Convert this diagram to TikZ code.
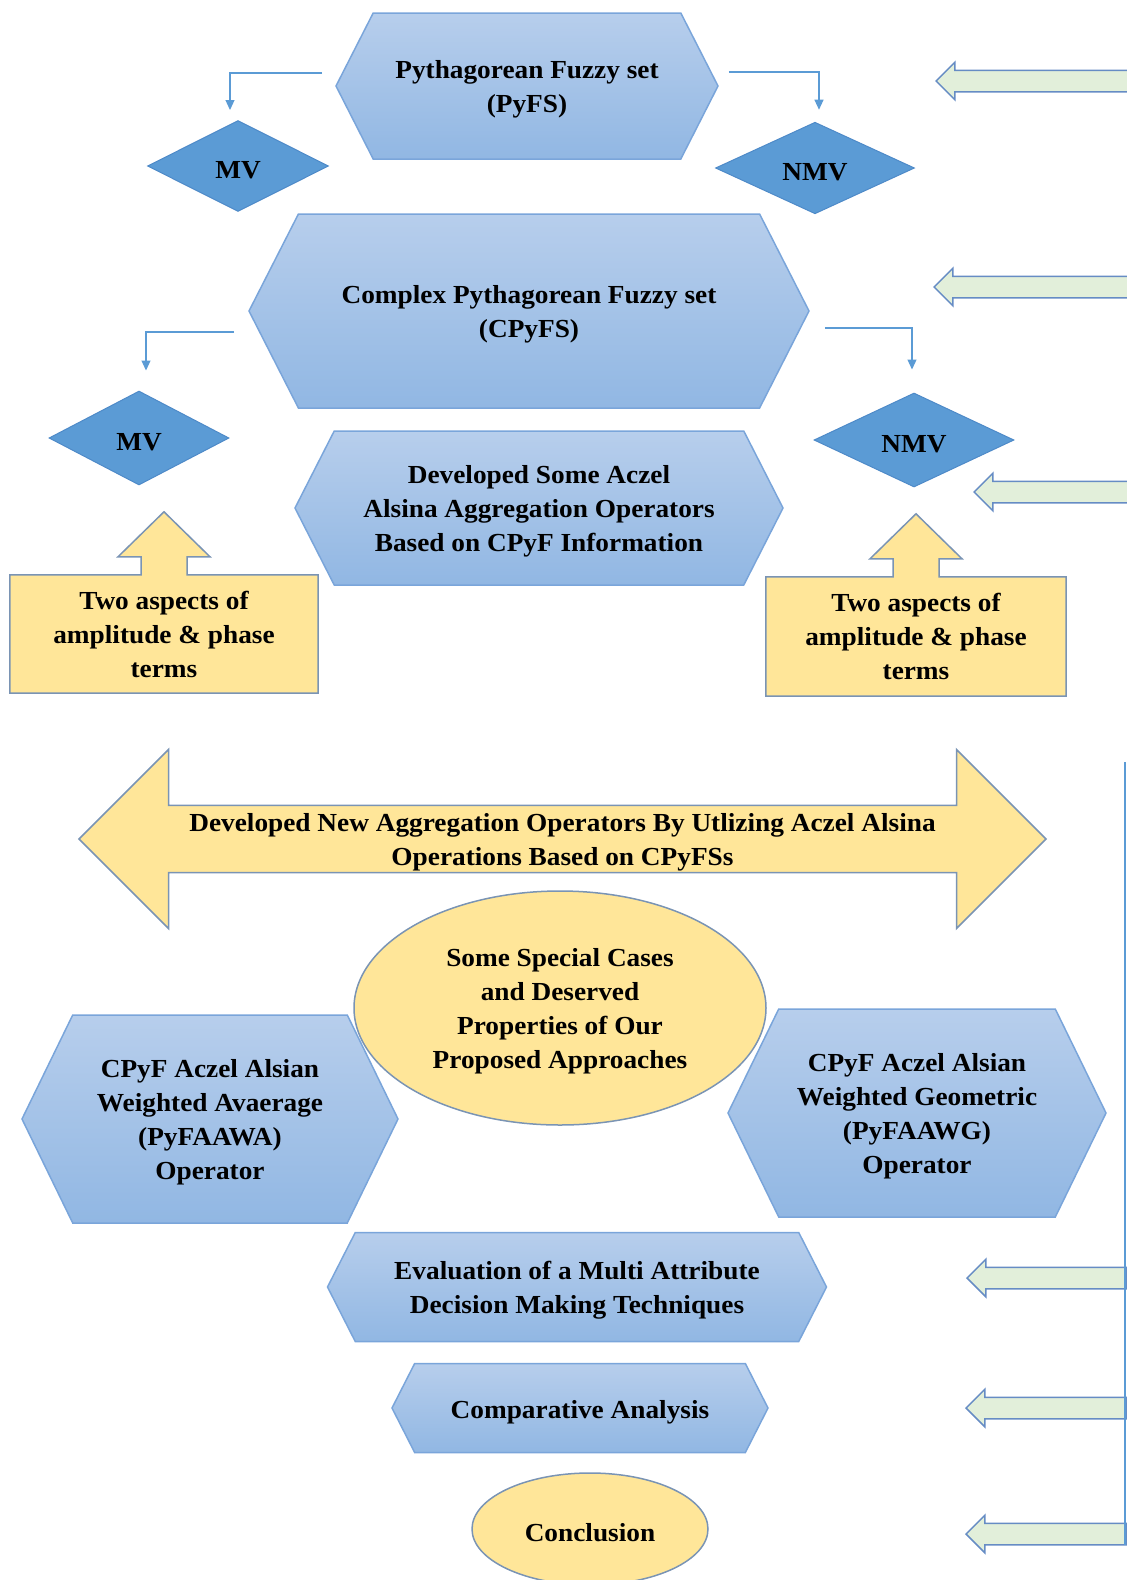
\documentclass[tikz,border=0pt]{standalone}
\usepackage{fontspec}
\setmainfont{Liberation Serif}[FakeStretch=1.05]
\usetikzlibrary{shapes.geometric,shapes.symbols,shapes.arrows,arrows.meta,backgrounds,calc}

\definecolor{hexedge}{RGB}{122,165,218}
\definecolor{hextop}{RGB}{183,206,236}
\definecolor{hexbot}{RGB}{145,183,227}
\definecolor{dmdblue}{RGB}{91,155,213}
\definecolor{dmdedge}{RGB}{78,138,200}
\definecolor{ylwfill}{RGB}{255,230,153}
\definecolor{ylwedge}{RGB}{122,148,180}
\definecolor{grnfill}{RGB}{226,239,218}
\definecolor{grnedge}{RGB}{102,140,196}

\begin{document}
\begin{tikzpicture}[x=1pt,y=-1pt,
		every node/.style={font=\fontsize{26}{34}\selectfont\bfseries,align=center,inner sep=0pt,execute at begin node={\rule{0pt}{26pt}}},
		multiline/.style={text depth=0pt},
		hexa/.style={shape=signal,signal to=west and east,signal pointer angle=126,draw=hexedge,line width=1.5pt,top color=hextop,bottom color=hexbot},
		dmd/.style={diamond,draw=dmdedge,fill=dmdblue,line width=1pt},
		ylw/.style={draw=ylwedge,fill=ylwfill,line width=1.5pt},
		greenarrow/.style={single arrow,shape border rotate=180,draw=grnedge,fill=grnfill,line width=1.5pt,inner ysep=10pt,text height=0pt,text depth=0pt,minimum width=33pt,single arrow head extend=8pt,anchor=tip},
		elbow/.style={draw=dmdblue,line width=1.2pt,-{Triangle[width=9pt,length=10pt]}}
	]
	\useasboundingbox (0,0) rectangle (1127,1580);

	\node[hexa,multiline,minimum width=382pt,minimum height=146pt] (pyfs) at (527,86) {Pythagorean Fuzzy set\\(PyFS)};
	\node[dmd,minimum width=181pt,minimum height=91pt] (mvA) at (238,166) {MV};
	\node[dmd,minimum width=199pt,minimum height=91pt] (nmvA) at (815,168) {NMV};

	\node[hexa,multiline,minimum width=560pt,minimum height=194pt] (cpyfs) at (529,311) {Complex Pythagorean Fuzzy set\\(CPyFS)};
	\node[dmd,minimum width=180pt,minimum height=94pt] (mvB) at (139,438) {MV};
	\node[dmd,minimum width=200pt,minimum height=94pt] (nmvB) at (914,440) {NMV};

	\node[hexa,multiline,minimum width=488pt,minimum height=154pt] (aaops) at (539,508) {Developed Some Aczel\\Alsina Aggregation Operators\\Based on CPyF Information};

	\node[minimum width=308pt,minimum height=118pt] (aspL) at (164,634) {Two aspects of\\amplitude \& phase\\terms};
	\node[minimum width=300pt,minimum height=119pt] (aspR) at (916,636.5) {Two aspects of\\amplitude \& phase\\terms};
	\begin{scope}[on background layer]
		\foreach \b in {aspL,aspR}
		\filldraw[ylw] (\b.south west) -- (\b.north west) -- ($(\b.north)+(-23,0)$) -- ++(0,-18) -- ++(-23,0)
		-- ($(\b.north)+(0,-63)$) -- ($(\b.north)+(46,-18)$) -- ++(-23,0) -- ++(0,18)
		-- (\b.north east) -- (\b.south east) -- cycle;
	\end{scope}

	\node[double arrow,ylw,multiline,minimum height=967pt,minimum width=179pt,double arrow head extend=44.5pt,double arrow tip angle=90] (aggr) at (562.5,839) {Developed New Aggregation Operators By Utlizing Aczel Alsina\\Operations Based on CPyFSs};

	\node[ellipse,ylw,multiline,minimum width=412pt,minimum height=234pt] (cases) at (560,1008) {Some Special Cases\\and Deserved\\Properties of Our\\Proposed Approaches};
	\node[hexa,multiline,signal pointer angle=128,minimum width=376pt,minimum height=208pt] (awa) at (210,1119) {CPyF Aczel Alsian\\Weighted Avaerage\\(PyFAAWA)\\Operator};
	\node[hexa,multiline,signal pointer angle=128,minimum width=378pt,minimum height=208pt] (awg) at (917,1113) {CPyF Aczel Alsian\\Weighted Geometric\\(PyFAAWG)\\Operator};

	\node[hexa,multiline,minimum width=499pt,minimum height=109pt] (madm) at (577,1287) {Evaluation of a Multi Attribute\\Decision Making Techniques};
	\node[hexa,minimum width=376pt,minimum height=89pt] (comp) at (580,1408) {Comparative Analysis};
	\node[ellipse,ylw,minimum width=236pt,minimum height=112pt] (concl) at (590,1529) {Conclusion};

	\node[greenarrow,minimum height=205pt] (ga1) at (935,81) {};
	\node[greenarrow,minimum height=207pt] (ga2) at (933,287) {};
	\node[greenarrow,minimum height=167pt] (ga3) at (973,492) {};
	\node[greenarrow,minimum height=159pt] (ga4) at (966,1278) {};
	\node[greenarrow,minimum height=160pt] (ga5) at (965,1408) {};
	\node[greenarrow,minimum height=160pt] (ga6) at (965,1534) {};

	\coordinate (railtop) at (1125,762);
	\coordinate (railbot) at (1125,1545);
	\draw[dmdblue,line width=1.5pt] (railtop) -- (railbot);

	\draw[elbow] ([xshift=-13pt,yshift=13pt]pyfs.west) -| ([xshift=-8pt,yshift=10pt]mvA.north);
	\draw[elbow] ([xshift=10pt,yshift=14pt]pyfs.east) -| ([xshift=4pt,yshift=12pt]nmvA.north);
	\draw[elbow] ([xshift=-14pt,yshift=-21pt]cpyfs.west) -| ([xshift=7pt,yshift=20pt]mvB.north);
	\draw[elbow] ([xshift=15pt,yshift=-17pt]cpyfs.east) -| ([xshift=-2pt,yshift=23pt]nmvB.north);
\end{tikzpicture}
\end{document}
